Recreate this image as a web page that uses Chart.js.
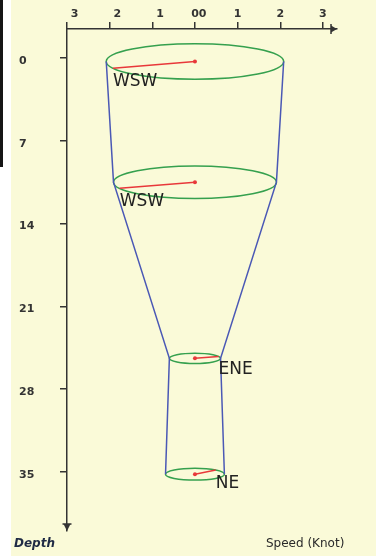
<!DOCTYPE html>
<html>
<head>
<meta charset="utf-8">
<script src="https://cdn.jsdelivr.net/npm/chart.js@4/dist/chart.umd.min.js"></script>
<style>
html,body{margin:0;padding:0;background:#fff;}
canvas{display:block;}
</style>
</head>
<body>
<canvas id="c" width="376" height="556"></canvas>
<script>
// ---- data ----
const depths = [0.3, 10.5, 25.4, 35.2];          // depth of each measurement level
const speeds = [2.08, 1.91, 0.6, 0.69];          // current speed (knots) per level
const directions = ['WSW', 'WSW', 'ENE', 'NE'];  // current direction per level
const xTickValues = [-3, -2, -1, 0, 1, 2, 3];
const xTickLabels = ['3', '2', '1', '00', '1', '2', '3'];
const yTickValues = [0, 7, 14, 21, 28, 35];
const yTickLabels = ['0', '7', '14', '21', '28', '35'];

// ---- presentation ----
const TILT = 0.72; // vertical half-axis of the perspective ellipse (depth units per knot)
const compass = {N:0,NNE:22.5,NE:45,ENE:67.5,E:90,ESE:112.5,SE:135,SSE:157.5,S:180,SSW:202.5,SW:225,WSW:247.5,W:270,WNW:292.5,NW:315,NNW:337.5};
const xPad = ['    ', '    ', '    ', '  ', '', '', ''];

function tip(i) {
  const a = compass[directions[i]] * Math.PI / 180;
  return { x: speeds[i] * Math.sin(a), y: depths[i] - TILT * speeds[i] * Math.cos(a) };
}

const datasets = [];
datasets.push({
  label: 'left', data: depths.map((d, i) => ({x: -speeds[i], y: d})),
  showLine: true, borderColor: '#4a58b5', borderWidth: 1.5, pointRadius: 0, tension: 0
});
datasets.push({
  label: 'right', data: depths.map((d, i) => ({x: speeds[i], y: d})),
  showLine: true, borderColor: '#4a58b5', borderWidth: 1.5, pointRadius: 0, tension: 0
});
depths.forEach((d, i) => {
  datasets.push({
    label: 'vec' + i, data: [{x: 0, y: d}, tip(i)],
    showLine: true, borderColor: '#e8383a', backgroundColor: '#e8383a',
    borderWidth: 1.5, pointRadius: [2, 0], pointBorderWidth: 0, tension: 0
  });
});

const bgPlugin = {
  id: 'bg',
  beforeDraw(chart) {
    const ctx = chart.ctx;
    ctx.save();
    ctx.fillStyle = '#ffffff'; ctx.fillRect(0, 0, 376, 556);
    ctx.fillStyle = '#fafad8'; ctx.fillRect(11, 0, 365, 556);
    ctx.fillStyle = '#151515'; ctx.fillRect(0, 0, 3, 167);
    ctx.restore();
  }
};

const ellipsePlugin = {
  id: 'ellipses',
  beforeDatasetsDraw(chart) {
    const ctx = chart.ctx, xs = chart.scales.x, ys = chart.scales.y;
    ctx.save();
    ctx.strokeStyle = '#35a04e'; ctx.lineWidth = 1.5;
    depths.forEach((d, i) => {
      const cx = xs.getPixelForValue(0), cy = ys.getPixelForValue(d);
      const rx = xs.getPixelForValue(speeds[i]) - cx;
      const ry = ys.getPixelForValue(d + TILT * speeds[i]) - cy;
      ctx.beginPath(); ctx.ellipse(cx, cy, rx, ry, 0, 0, Math.PI * 2); ctx.stroke();
    });
    ctx.restore();
  },
  afterDatasetsDraw(chart) {
    const ctx = chart.ctx, xs = chart.scales.x, ys = chart.scales.y;
    ctx.save();
    ctx.fillStyle = '#222'; ctx.font = '17px "DejaVu Sans"';
    ctx.textAlign = 'left'; ctx.textBaseline = 'alphabetic';
    depths.forEach((d, i) => {
      const t = tip(i);
      ctx.fillText(directions[i], xs.getPixelForValue(t.x), ys.getPixelForValue(t.y) + 17.5);
    });
    ctx.restore();
  },
  afterDraw(chart) {
    const ctx = chart.ctx, a = chart.chartArea;
    ctx.save();
    ctx.fillStyle = '#333'; ctx.strokeStyle = '#333'; ctx.lineWidth = 1.5;
    // x-axis arrow
    ctx.beginPath(); ctx.moveTo(a.right - 6, a.top - 5); ctx.lineTo(a.right - 6, a.top + 5); ctx.stroke();
    ctx.beginPath(); ctx.moveTo(a.right - 6, a.top - 3.5); ctx.lineTo(a.right, a.top); ctx.lineTo(a.right - 6, a.top + 3.5); ctx.closePath(); ctx.fill();
    // y-axis arrow
    ctx.beginPath(); ctx.moveTo(a.left - 4.5, a.bottom - 7); ctx.lineTo(a.left + 4.5, a.bottom - 7); ctx.stroke();
    ctx.beginPath(); ctx.moveTo(a.left - 3.5, a.bottom - 7); ctx.lineTo(a.left, a.bottom); ctx.lineTo(a.left + 3.5, a.bottom - 7); ctx.closePath(); ctx.fill();
    // axis names
    ctx.textBaseline = 'alphabetic'; ctx.textAlign = 'left';
    ctx.fillStyle = '#1f2a44'; ctx.font = 'italic bold 12px "DejaVu Sans"';
    ctx.fillText('Depth', 14, 547);
    ctx.fillStyle = '#2a2a2a'; ctx.font = '12px "DejaVu Sans"';
    ctx.fillText('Speed (Knot)', 266, 547);
    ctx.restore();
  }
};

const tickFont = {family: 'DejaVu Sans', size: 11, weight: 'bold'};

new Chart(document.getElementById('c'), {
  type: 'scatter',
  data: { datasets },
  options: {
    responsive: false, animation: false,
    layout: { padding: { left: 19, right: 39, top: 0, bottom: 25 } },
    plugins: { legend: { display: false }, tooltip: { enabled: false } },
    scales: {
      x: {
        type: 'linear', position: 'top', min: -3, max: 3.33,
        afterBuildTicks: s => { s.ticks = xTickValues.map(v => ({value: v})); },
        afterFit: s => { s.height = 29; },
        ticks: {
          callback: (v, i) => xPad[i] + xTickLabels[i],
          font: tickFont, color: '#333', padding: 1, maxRotation: 0, autoSkip: false
        },
        grid: { display: true, drawOnChartArea: false, drawTicks: true, tickLength: 7, color: '#333', lineWidth: 1.5 },
        border: { display: true, color: '#333', width: 1.5 }
      },
      y: {
        type: 'linear', position: 'left', reverse: true, min: -2.45, max: 40,
        afterBuildTicks: s => { s.ticks = yTickValues.map(v => ({value: v})); },
        afterFit: s => { s.width = 48; },
        ticks: {
          callback: (v, i) => yTickLabels[i],
          font: tickFont, color: '#333', crossAlign: 'far', labelOffset: 3, autoSkip: false
        },
        grid: { display: true, drawOnChartArea: false, drawTicks: true, tickLength: 7, color: '#333', lineWidth: 1.5 },
        border: { display: true, color: '#333', width: 1.5 }
      }
    }
  },
  plugins: [bgPlugin, ellipsePlugin]
});
</script>
</body>
</html>
